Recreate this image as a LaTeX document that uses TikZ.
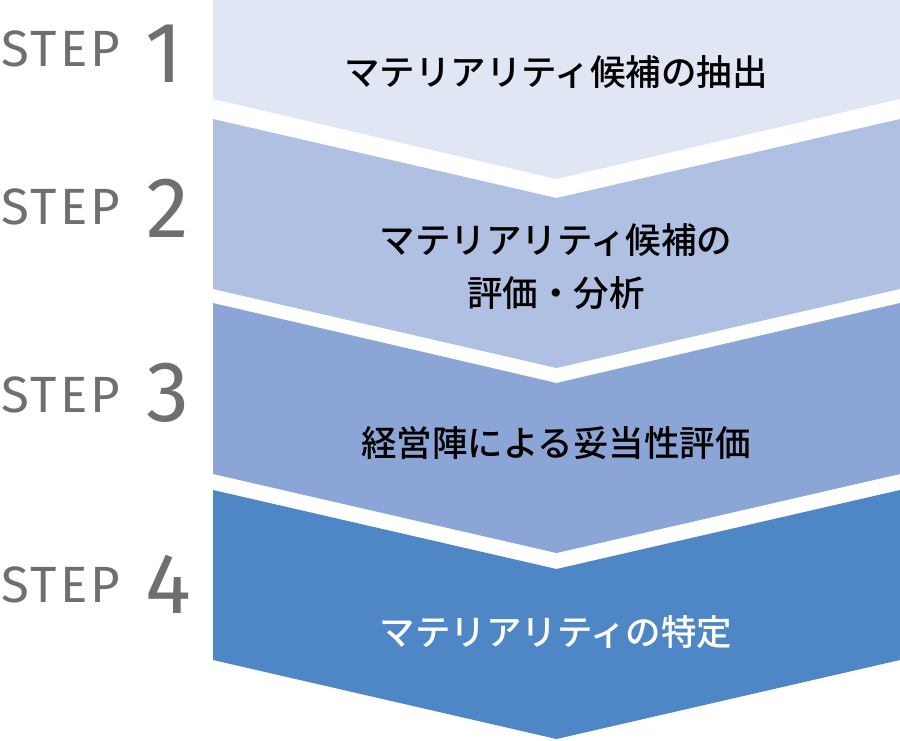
\documentclass[tikz,border=0pt]{standalone}
\usepackage{fontspec}
\newfontfamily\jpfont{Noto Sans CJK JP Medium}
\newfontfamily\stepfont[LetterSpace=6]{Fira Sans}
\newfontfamily\numfont{Fira Sans}
\definecolor{cA}{HTML}{E0E6F4}
\definecolor{cB}{HTML}{AFC0E2}
\definecolor{cC}{HTML}{8BA6D6}
\definecolor{cD}{HTML}{4F86C6}
\definecolor{stepgray}{HTML}{6F6F6F}
\tikzset{
  steplabel/.style={anchor=west, inner sep=0pt, text=stepgray, font=\stepfont\fontsize{51}{51}\selectfont},
  stepnum/.style={anchor=center, inner sep=0pt, text=stepgray, font=\numfont\fontsize{86}{86}\selectfont},
  jptext/.style={anchor=center, inner sep=0pt, align=center, font=\jpfont\fontsize{35.5}{53}\selectfont},
}
\begin{document}
\begin{tikzpicture}[x=1pt,y=-1pt]
\useasboundingbox (0,0) rectangle (900,740);
\fill[cA] (213,0) -- (900,0) -- (900,99) -- (556.5,179) -- (213,99) -- cycle;
\fill[cB] (213,119) -- (556.5,198) -- (900,119) -- (900,289) -- (556.5,368) -- (213,289) -- cycle;
\fill[cC] (213,303) -- (556.5,383) -- (900,303) -- (900,474) -- (556.5,553) -- (213,474) -- cycle;
\fill[cD] (213,490) -- (556.5,569) -- (900,490) -- (900,660) -- (556.5,739) -- (213,660) -- cycle;

\node[jptext] (t1) at (556,72) {マテリアリティ候補の抽出};
\node[jptext] (t2) at (556,267) {マテリアリティ候補の\\評価・分析};
\node[jptext] (t3) at (556,443) {経営陣による妥当性評価};
\node[jptext, text=white] (t4) at (556,632) {マテリアリティの特定};

\node[steplabel] (s1) at (1,49) {STEP};
\node[stepnum] (n1) at (164,54) {1};
\node[steplabel] (s2) at (1,207) {STEP};
\node[stepnum] (n2) at (168,208) {2};
\node[steplabel] (s3) at (1,395) {STEP};
\node[stepnum] (n3) at (168,393) {3};
\node[steplabel] (s4) at (1,585) {STEP};
\node[stepnum] (n4) at (168,584) {4};
\end{tikzpicture}
\end{document}
